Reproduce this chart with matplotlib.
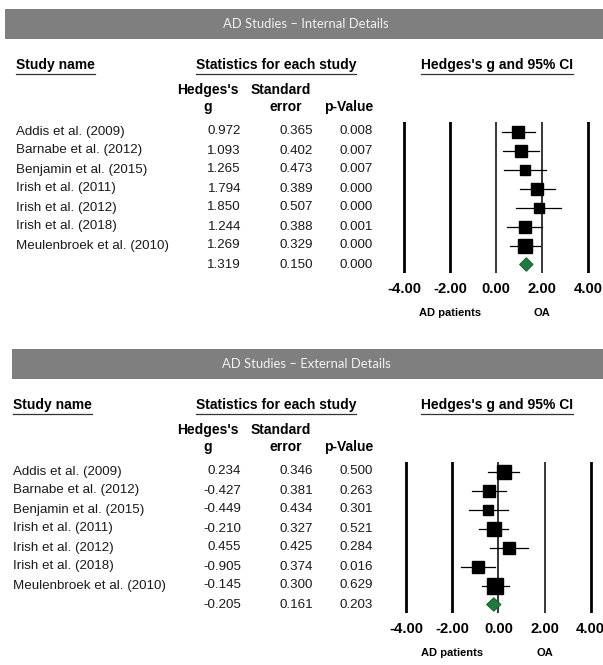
import matplotlib
matplotlib.use('Agg')
import matplotlib.pyplot as plt
from matplotlib.patches import Rectangle
from matplotlib.transforms import blended_transform_factory

W, H = 603, 665
DPI = 100

studies = ['Addis et al. (2009)', 'Barnabe et al. (2012)', 'Benjamin et al. (2015)',
           'Irish et al. (2011)', 'Irish et al. (2012)', 'Irish et al. (2018)',
           'Meulenbroek et al. (2010)']

# internal details
internal_g = [0.972, 1.093, 1.265, 1.794, 1.850, 1.244, 1.269]
internal_se = [0.365, 0.402, 0.473, 0.389, 0.507, 0.388, 0.329]
internal_p = [0.008, 0.007, 0.007, 0.000, 0.000, 0.001, 0.000]
internal_pooled = [1.319, 0.150, 0.000]

# external details
external_g = [0.234, -0.427, -0.449, -0.210, 0.455, -0.905, -0.145]
external_se = [0.346, 0.381, 0.434, 0.327, 0.425, 0.374, 0.300]
external_p = [0.500, 0.263, 0.301, 0.521, 0.284, 0.016, 0.629]
external_pooled = [-0.205, 0.161, 0.203]

axis_ticks = [-4, -2, 0, 2, 4]
axis_labels = ['AD patients', 'OA']

plt.rcParams['font.family'] = ['Liberation Sans', 'DejaVu Sans']

fig = plt.figure(figsize=(W / DPI, H / DPI), dpi=DPI)
canvas = fig.add_axes([0, 0, 1, 1])
canvas.set_xlim(0, W)
canvas.set_ylim(H, 0)
canvas.axis('off')

ROW_H = 19
PX_PER_UNIT = 23
XLIM = 4.6
underlined = []


def panel(title, g, se, p, pooled, dy, name_x, bar_x, zero_x):
    # grey title bar
    canvas.add_patch(Rectangle((bar_x, 9 + dy), W - bar_x, 30, color='#7f7f7f', lw=0))
    canvas.text(306, 24.5 + dy, title, ha='center', va='center', fontsize=9.4,
                family=['Lato', 'DejaVu Sans'], color='#f2f2f2')

    # column headings
    for x, txt, ha in [(name_x, 'Study name', 'left'),
                       (276, 'Statistics for each study', 'center'),
                       (497, "Hedges's g and 95% CI", 'center')]:
        t = canvas.text(x, 65 + dy, txt, ha=ha, va='center', fontsize=10, fontweight='bold')
        underlined.append((t, 73.5 + dy))
    canvas.text(208, 90 + dy, "Hedges's", ha='center', va='center', fontsize=10, fontweight='bold')
    canvas.text(208, 107 + dy, 'g', ha='center', va='center', fontsize=10, fontweight='bold')
    canvas.text(281, 90 + dy, 'Standard', ha='center', va='center', fontsize=10, fontweight='bold')
    canvas.text(286, 107 + dy, 'error', ha='center', va='center', fontsize=10, fontweight='bold')
    canvas.text(349, 107 + dy, 'p-Value', ha='center', va='center', fontsize=10, fontweight='bold')

    # table rows
    row0 = 131.5 + dy
    names = studies + ['']
    gs = g + [pooled[0]]
    ses = se + [pooled[1]]
    ps = p + [pooled[2]]
    for i in range(len(names)):
        y = row0 + i * ROW_H
        canvas.text(name_x, y, names[i], ha='left', va='center', fontsize=9.6, color='#1a1a1a')
        canvas.text(241, y, f'{gs[i]:.3f}', ha='right', va='center', fontsize=9.6, color='#1a1a1a')
        canvas.text(313, y, f'{ses[i]:.3f}', ha='right', va='center', fontsize=9.6, color='#1a1a1a')
        canvas.text(373, y, f'{ps[i]:.3f}', ha='right', va='center', fontsize=9.6, color='#1a1a1a')

    # forest plot
    top_px = row0 - 0.5 * ROW_H
    bot_px = row0 + 7.45 * ROW_H
    left_px = zero_x - XLIM * PX_PER_UNIT
    ax = fig.add_axes([left_px / W, 1 - bot_px / H,
                       2 * XLIM * PX_PER_UNIT / W, (bot_px - top_px) / H])
    ax.set_xlim(-XLIM, XLIM)
    ax.set_ylim(7.45, -0.5)
    ax.patch.set_alpha(0)
    for s in ax.spines.values():
        s.set_visible(False)
    ax.set_yticks([])
    ax.set_xticks(axis_ticks)
    ax.set_xticklabels([f'{t:.2f}' for t in axis_ticks], fontsize=10.7, fontweight='bold')
    ax.tick_params(axis='x', length=0, pad=6.5)
    for t in axis_ticks:
        ax.axvline(t, color='black', lw=1.1 if t in (0, 2) else 2.0, zorder=1)

    for i in range(len(g)):
        lo, hi = g[i] - 1.96 * se[i], g[i] + 1.96 * se[i]
        ax.plot([lo, hi], [i, i], color='black', lw=0.9, zorder=2)
        ax.plot(g[i], i, marker='s', color='black', ms=4.7 / se[i] * 72 / DPI,
                ls='none', zorder=3)

    pg, pse = pooled[0], pooled[1]
    lo, hi = pg - 1.96 * pse, pg + 1.96 * pse
    n = len(g)
    ax.fill([lo, pg, hi, pg], [n, n - 0.36, n, n + 0.36], facecolor='#1f7a3d',
            edgecolor='#145a2a', lw=0.6, zorder=3)

    trans = blended_transform_factory(ax.transData, canvas.transData)
    canvas.text(-2, 313 + dy, axis_labels[0], transform=trans, ha='center', va='center',
                fontsize=8, fontweight='bold')
    canvas.text(2, 313 + dy, axis_labels[1], transform=trans, ha='center', va='center',
                fontsize=8, fontweight='bold')


panel('AD Studies \u2013 Internal Details', internal_g, internal_se, internal_p,
      internal_pooled, 0, 16, 5, 496)
panel('AD Studies \u2013 External Details', external_g, external_se, external_p,
      external_pooled, 340, 13, 12, 498.5)

# underline the bold headings
fig.canvas.draw()
renderer = fig.canvas.get_renderer()
inv = canvas.transData.inverted()
for t, y in underlined:
    bb = t.get_window_extent(renderer)
    x0 = inv.transform((bb.x0, bb.y0))[0]
    x1 = inv.transform((bb.x1, bb.y0))[0]
    canvas.plot([x0, x1], [y, y], color='#333333', lw=0.9)

fig.savefig('out.png', dpi=DPI)
